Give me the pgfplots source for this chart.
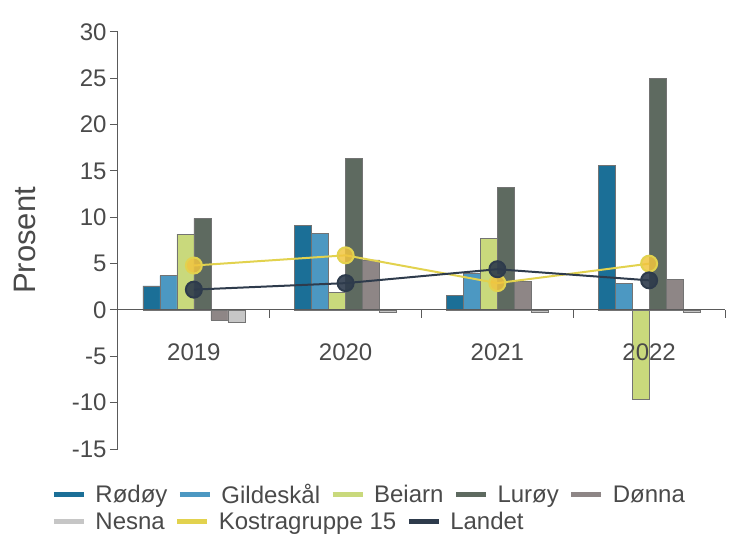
\documentclass[border=0pt]{standalone}
\usepackage{pgfplots}
\pgfplotsset{compat=1.18}
\usetikzlibrary{calc}
\usepackage{fontspec}
\setmainfont{Liberation Sans}

\definecolor{rodoy}{HTML}{1B6F97}
\definecolor{gildeskal}{HTML}{4C98C2}
\definecolor{beiarn}{HTML}{C9D97C}
\definecolor{luroy}{HTML}{5E6A60}
\definecolor{donna}{HTML}{8E8686}
\definecolor{nesna}{HTML}{C6C6C6}
\definecolor{kostra}{HTML}{E2D24E}
\definecolor{kostramark}{HTML}{F1C53F}
\definecolor{landet}{HTML}{2E3B4C}
\definecolor{axisgray}{HTML}{5A5A5A}
\definecolor{txtgray}{HTML}{4A4A4A}

\pgfplotsset{
  leg/.style={legend image code/.code={\draw[line width=5bp,#1] (0bp,0bp) -- (30bp,0bp);}},
  bars/.style={ybar, bar width=17bp, fill=#1, draw=black!55, line width=0.6bp, leg=#1},
  legbox/.style={legend style={draw=none, fill=none, inner sep=0pt,
      /tikz/every odd column/.append style={column sep=9bp},
      /tikz/every even column/.append style={column sep=10bp},
      nodes={inner sep=0pt, text=txtgray}, font=\fontsize{24bp}{28bp}\selectfont}},
}

\begin{document}
\begin{tikzpicture}
\begin{axis}[name=main,
  scale only axis, width=607bp, height=417bp,
  xmin=-0.5, xmax=3.5, ymin=-15, ymax=30,
  axis y line=left, axis x line=middle, axis on top,
  axis line style={-, draw=axisgray, line width=1bp},
  hide obscured x ticks=false, hide obscured y ticks=false,
  ytick={-15,-10,...,30},
  xtick={0,1,2,3}, xticklabels={2019,2020,2021,2022},
  minor xtick={-0.5,0.5,1.5,2.5,3.5},
  major x tick style={draw=none},
  tick align=outside, major tick length=8bp, minor tick length=8bp,
  every tick/.style={draw=axisgray, line width=1bp},
  /pgf/number format/assume math mode=true,
  ticklabel style={font=\fontsize{24bp}{28bp}\selectfont, text=txtgray},
  xticklabel style={yshift=-22bp},
  ylabel={Prosent},
  ylabel style={at={(axis description cs:-0.153,0.5)}, anchor=center,
    font=\fontsize{31bp}{36bp}\selectfont, text=txtgray},
  legbox, legend columns=5,
  legend style={at={(axis description cs:-0.110,-0.110)}, anchor=west},
  clip=false,
]
\addplot[bars=rodoy, bar shift=-42.5bp] coordinates {(0,2.6) (1,9.1) (2,1.6) (3,15.6)};
\addlegendentry{Rødøy}
\addplot[bars=gildeskal, bar shift=-25.5bp] coordinates {(0,3.7) (1,8.3) (2,4.0) (3,2.9)};
\addlegendentry{Gildeskål}
\addplot[bars=beiarn, bar shift=-8.5bp] coordinates {(0,8.2) (1,1.9) (2,7.7) (3,-9.6)};
\addlegendentry{Beiarn}
\addplot[bars=luroy, bar shift=8.5bp] coordinates {(0,9.9) (1,16.4) (2,13.2) (3,25.0)};
\addlegendentry{Lurøy}
\addplot[bars=donna, bar shift=25.5bp] coordinates {(0,-1.1) (1,5.4) (2,3.1) (3,3.3)};
\addlegendentry{Dønna}
\addplot[bars=nesna, bar shift=42.5bp] coordinates {(0,-1.3) (1,-0.3) (2,-0.3) (3,-0.3)};
\addplot[sharp plot, color=kostra, line width=2bp, mark=*,
  mark options={draw=none, fill=kostramark, fill opacity=0.85}, mark size=8bp]
  coordinates {(0,4.8) (1,5.9) (2,2.9) (3,5.0)};
\addplot[sharp plot, color=landet, line width=2bp, mark=*,
  mark options={draw=none, fill=landet, fill opacity=0.9}, mark size=8bp]
  coordinates {(0,2.2) (1,2.9) (2,4.4) (3,3.2)};
\end{axis}
\begin{axis}[
  at={(main.south west)}, anchor=south west,
  scale only axis, width=607bp, height=417bp, hide axis,
  xmin=0, xmax=1, ymin=0, ymax=1,
  legbox, legend columns=3,
  legend style={at={(axis description cs:-0.110,-0.175)}, anchor=west},
]
\addlegendimage{leg=nesna}
\addlegendentry{Nesna}
\addlegendimage{leg=kostra}
\addlegendentry{Kostragruppe 15}
\addlegendimage{leg=landet}
\addlegendentry{Landet}
\end{axis}
\pgfresetboundingbox
\path[use as bounding box] ($(main.south west)+(-118bp,-86bp)$) rectangle +(731bp,535bp);
\end{tikzpicture}
\end{document}
